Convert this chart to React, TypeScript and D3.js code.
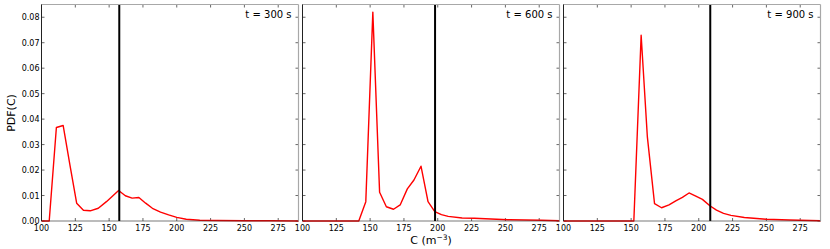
import React from "react";
import * as d3 from "d3";

const xTicks = [100, 125, 150, 175, 200, 225, 250, 275];
const yTicks = [0, 0.01, 0.02, 0.03, 0.04, 0.05, 0.06, 0.07, 0.08];
const titles = ["t = 300 s", "t = 600 s", "t = 900 s"];
const markers = [157.5, 198, 208.5];

const c300 = [100, 105.7, 111, 116, 121, 126, 131, 136, 142, 148, 157, 162, 167, 172, 177, 182, 188, 194, 200, 207, 217, 230, 250, 270, 290];
const p300 = [0, 0, 0.0367, 0.0375, 0.022, 0.007, 0.0042, 0.004, 0.005, 0.0076, 0.012, 0.0099, 0.009, 0.0092, 0.007, 0.005, 0.0035, 0.0024, 0.0014, 0.0007, 0.0003, 0.0002, 0.0001, 0.0001, 0.0];

const c600 = [100, 141.6, 146.8, 152, 157, 162, 167.3, 172.2, 177.5, 182.4, 187.6, 192.8, 197.8, 202.7, 207.7, 218, 227, 251.7, 276.4, 290];
const p600 = [0, 0, 0.0076, 0.082, 0.0113, 0.0056, 0.0046, 0.0063, 0.0126, 0.0161, 0.0215, 0.0076, 0.0037, 0.0025, 0.0018, 0.0012, 0.0011, 0.0005, 0.0003, 0.0001];

const c900 = [100, 152, 157.4, 162, 167.3, 172.5, 178, 183, 187.9, 192.8, 197.8, 202.7, 208.2, 213.1, 218.3, 223.8, 233.7, 249.8, 267, 290];
const p900 = [0, 0, 0.0729, 0.033, 0.0068, 0.0052, 0.0063, 0.0079, 0.0093, 0.011, 0.0098, 0.0085, 0.006, 0.0043, 0.003, 0.0022, 0.0014, 0.0007, 0.0004, 0.0001];

const series = [
  { c: c300, p: p300 },
  { c: c600, p: p600 },
  { c: c900, p: p900 },
];

const lefts = [41.5, 302.5, 563.5];
const W = 257;
const TOP = 4.5;
const BOTTOM = 221;
const FONT = "DejaVu Sans, sans-serif";

export default function App() {
  const y = d3.scaleLinear().domain([0, 0.085]).range([BOTTOM, TOP]);
  return (
    <svg width={830} height={249} style={{ position: "absolute", left: 0, top: 0, background: "#fff" }}>
      {series.map((s, i) => {
        const L = lefts[i];
        const x = d3.scaleLinear().domain([100, 290]).range([L, L + W]);
        const line = d3
          .line<number>()
          .x((_, k) => x(s.c[k]))
          .y((v) => y(v));
        return (
          <g key={i}>
            <rect x={L} y={TOP} width={W} height={BOTTOM - TOP} fill="#fff" />
            {xTicks.map((t) => (
              <g key={"xt" + t}>
                <line x1={x(t)} x2={x(t)} y1={BOTTOM} y2={BOTTOM - 3} stroke="#000" strokeWidth={0.6} />
                <line x1={x(t)} x2={x(t)} y1={TOP} y2={TOP + 3} stroke="#000" strokeWidth={0.6} />
                <text x={x(t)} y={231} fontSize={8} fontFamily={FONT} textAnchor="middle" fill="#000">
                  {t}
                </text>
              </g>
            ))}
            {yTicks.map((t) => (
              <g key={"yt" + t}>
                <line x1={L} x2={L + 3} y1={y(t)} y2={y(t)} stroke="#000" strokeWidth={0.6} />
                <line x1={L + W} x2={L + W - 3} y1={y(t)} y2={y(t)} stroke="#000" strokeWidth={0.6} />
                {i === 0 && (
                  <text x={L - 2} y={y(t) + 3} fontSize={8} fontFamily={FONT} textAnchor="end" fill="#000">
                    {t.toFixed(2)}
                  </text>
                )}
              </g>
            ))}
            <path d={line(s.p) || ""} fill="none" stroke="#ff0000" strokeWidth={1.4} strokeLinejoin="round" />
            <line x1={x(markers[i])} x2={x(markers[i])} y1={TOP} y2={BOTTOM} stroke="#000" strokeWidth={2} />
            <line x1={L} x2={L + W} y1={TOP} y2={TOP} stroke="#a8a8a8" strokeWidth={1.2} />
            <line x1={L + W} x2={L + W} y1={TOP} y2={BOTTOM} stroke="#a8a8a8" strokeWidth={1.2} />
            <line x1={L} x2={L} y1={TOP} y2={BOTTOM} stroke="#222" strokeWidth={1} />
            <line x1={L} x2={L + W} y1={BOTTOM} y2={BOTTOM} stroke="#222" strokeWidth={1} opacity={0.6} />
            <text x={L + W - 7} y={18} fontSize={10} fontFamily={FONT} textAnchor="end" fill="#000">
              {titles[i]}
            </text>
          </g>
        );
      })}
      <text
        transform="translate(15,113) rotate(-90)"
        fontSize={11}
        fontFamily={FONT}
        textAnchor="middle"
        fill="#000"
      >
        PDF(C)
      </text>
      <text x={431} y={244} fontSize={11} fontFamily={FONT} textAnchor="middle" fill="#000">
        C (m
        <tspan dy={-4} fontSize={7.5}>−3</tspan>
        <tspan dy={4}>)</tspan>
      </text>
    </svg>
  );
}
